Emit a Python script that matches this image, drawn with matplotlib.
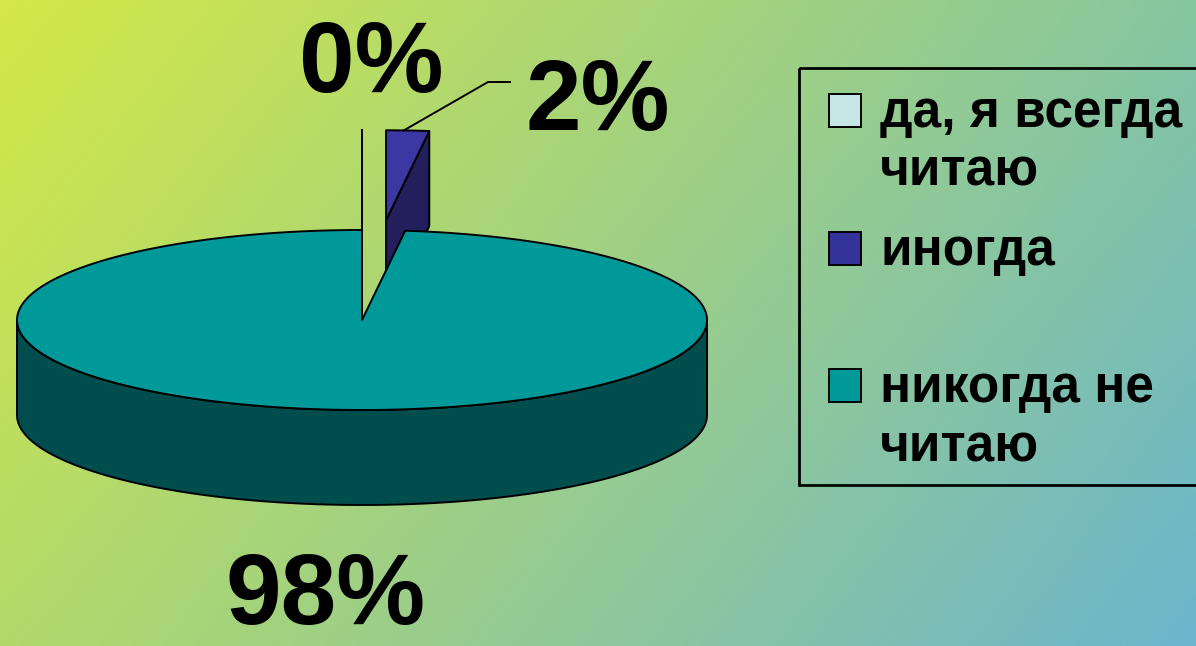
import numpy as np
import matplotlib
matplotlib.use("Agg")
import matplotlib.pyplot as plt
from matplotlib.colors import to_rgb
from matplotlib.patches import Polygon, Rectangle

# data
labels = ["да, я всегда\nчитаю", "иногда", "никогда не\nчитаю"]
values = [0, 2, 98]
pct_labels = ["0%", "2%", "98%"]

# style
top_colors = ["#c6e6e4", "#3b37a3", "#009999"]
side_colors = ["#8fb2b0", "#221f5c", "#004d4e"]
legend_colors = ["#c6e6e4", "#333399", "#009999"]
explode = [1.11, 1.11, 0.0]

W, H = 1196, 646
CX, CY, A, B, DEPTH = 362, 320, 345, 90, 95
START = 90

plt.rcParams["font.family"] = ["Liberation Sans", "DejaVu Sans"]

fig = plt.figure(figsize=(W / 100, H / 100), dpi=100)
ax = fig.add_axes([0, 0, 1, 1])
ax.set_xlim(0, W)
ax.set_ylim(H, 0)
ax.axis("off")

# background gradient
tl, tr, bl, br = [np.array(to_rgb(c)) for c in ("#d4e846", "#86c6a0", "#b2da6a", "#6cb5cd")]
u = np.linspace(0, 1, 300)[None, :, None]
v = np.linspace(0, 1, 160)[:, None, None]
grad = (1 - u) * (1 - v) * tl + u * (1 - v) * tr + (1 - u) * v * bl + u * v * br
ax.imshow(grad, extent=(0, W, H, 0), aspect="auto", zorder=0, interpolation="bilinear")


def pt(t, off, z=0):
    t = np.radians(t)
    return CX + A * np.cos(t) + off[0], CY - B * np.sin(t) + off[1] + z


def arc(t0, t1, off, z=0):
    n = max(2, int(abs(t1 - t0)) + 2)
    x, y = pt(np.linspace(t0, t1, n), off, z)
    return np.column_stack([x, y])


def front_parts(lo, hi):
    parts = []
    for k in range(-2, 3):
        a, b = max(lo, -180 + 360 * k), min(hi, 360 * k)
        if b > a:
            parts.append((a, b))
    return parts


total = sum(values)
slices = []
hi = START
for i, val in enumerate(values):
    lo = hi - 360 * val / total
    mid = np.radians((lo + hi) / 2)
    off = (A * explode[i] * np.cos(mid), -B * explode[i] * np.sin(mid))
    depth_key = CY - B * np.sin(mid) * 0.5 + off[1]
    slices.append((depth_key, i, lo, hi, off))
    hi = lo

z = 2
for _, i, lo, hi, off in sorted(slices):
    c = (CX + off[0], CY + off[1])
    kw = dict(ec="black", lw=1.4, joinstyle="round")
    for a, b in front_parts(lo, hi):
        poly = np.vstack([arc(a, b, off), arc(b, a, off, DEPTH)])
        ax.add_patch(Polygon(poly, closed=True, fc=side_colors[i], zorder=z, **kw))
    zero = hi - lo < 1e-9
    for t, sign in ((hi, -1), (lo, 1)):
        if not (zero or sign * np.cos(np.radians(t)) > 1e-6):
            continue
        px, py = pt(t, off)
        quad = [c, (px, py), (px, py + DEPTH), (c[0], c[1] + DEPTH)]
        ax.add_patch(Polygon(quad, closed=True, fc=side_colors[i], zorder=z, **kw))
    top = np.vstack([[c], arc(hi, lo, off)])
    ax.add_patch(Polygon(top, closed=True, fc=top_colors[i], zorder=z + 1, **kw))
    z += 2

# percentage labels
label_pos = [(371, 92), (598, 130), (326, 624)]
for (x, y), s in zip(label_pos, pct_labels):
    ax.text(x, y, s, ha="center", va="baseline", fontsize=72, fontweight="bold", zorder=20)

# leader line for the 2% label
_, _, lo, hi, off = slices[1]
sx, sy = pt((lo + hi) / 2, off)
ax.plot([sx - 4, 488, 510], [sy, 82, 82], color="black", lw=1.4, zorder=20)

# legend
ax.add_patch(Rectangle((799, 68), 430, 417, fill=False, ec="black", lw=2, zorder=20, clip_on=False))
for i, lab in enumerate(labels):
    base = 127 + i * 137.5
    ax.add_patch(Rectangle((829, base - 33), 32, 33, fc=legend_colors[i], ec="black", lw=1.4, zorder=20))
    for j, line in enumerate(lab.split("\n")):
        ax.text(880, base + j * 59, line, ha="left", va="baseline", fontsize=37,
                fontweight="bold", zorder=20)

fig.savefig("out.png", dpi=100)
